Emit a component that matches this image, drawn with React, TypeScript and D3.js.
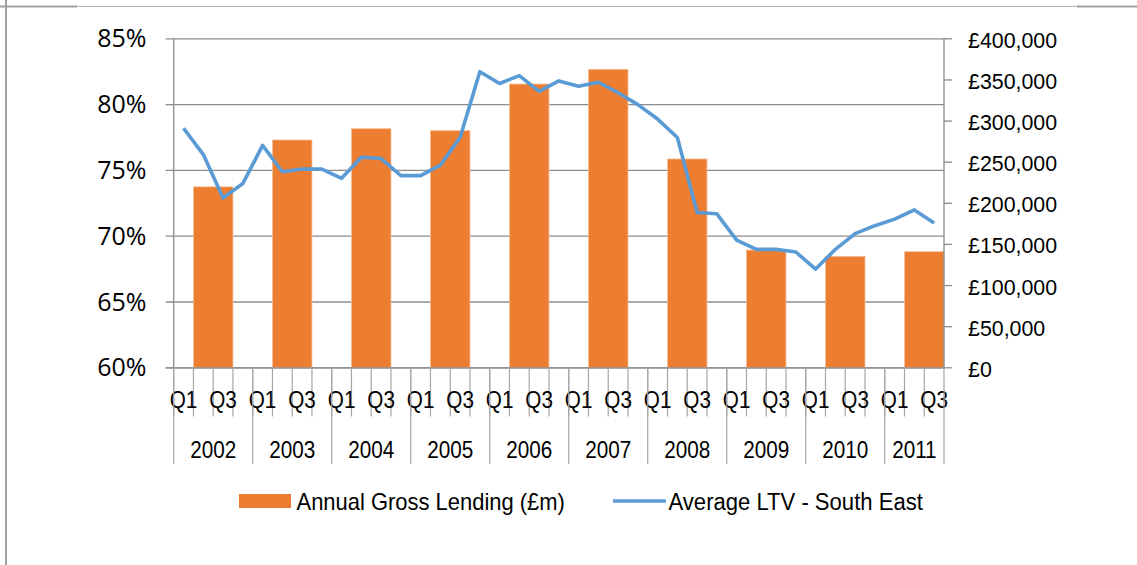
import * as d3 from 'd3';
import React from 'react';

// chart values
const years = ['2002', '2003', '2004', '2005', '2006', '2007', '2008', '2009', '2010', '2011'];
const quartersPerYear = [4, 4, 4, 4, 4, 4, 4, 4, 4, 3];
const shownQuarters = ['Q1', 'Q3'];

// Annual Gross Lending (£m), right axis
const lending = [220000, 277000, 290700, 288300, 345000, 362900, 253900, 143200, 135500, 141200];

// Average LTV - South East (%), left axis, one per quarter
const ltv = [
    78.2, 76.2, 72.9, 74.0,
    76.9, 74.9, 75.1, 75.1,
    74.4, 76.0, 75.9, 74.6,
    74.6, 75.4, 77.5, 82.5,
    81.6, 82.2, 81.0, 81.8,
    81.4, 81.7, 80.9, 80.0,
    78.9, 77.5, 71.8, 71.7,
    69.7, 69.0, 69.0, 68.8,
    67.5, 69.0, 70.2, 70.8,
    71.3, 72.0, 71.0
];

const leftTicks = [60, 65, 70, 75, 80, 85];
const rightTicks = [0, 50000, 100000, 150000, 200000, 250000, 300000, 350000, 400000];

const W = 1137;
const H = 565;
const dim = { left: 173.7, right: 944, top: 38.8, bottom: 367.8 };

const ORANGE = '#ED7D31';
const BLUE = '#5B9BD5';
const AXIS = '#8c8c8c';
const TICK = '#a6a6a6';
const SANS = '"Liberation Sans", Arial, sans-serif';

export default function App() {
    const quarters = years.flatMap((y, i) => d3.range(quartersPerYear[i]).map(q => `${y}-Q${q + 1}`));

    const x = d3.scaleBand<string>()
        .domain(quarters)
        .range([dim.left, dim.right])
        .paddingInner(0)
        .paddingOuter(0);
    const bw = x.bandwidth();

    const yL = d3.scaleLinear().domain([60, 85]).range([dim.bottom, dim.top]);
    const yR = d3.scaleLinear().domain([0, 400000]).range([dim.bottom, dim.top]);

    const line = d3.line<number>()
        .x((_, i) => (x(quarters[i]) as number) + bw / 2)
        .y(d => yL(d));

    const fmtMoney = (v: number) => `£${d3.format(',')(v)}`;

    // Excel text here is a little condensed, so squeeze it horizontally
    const squeezed = (key: string, tx: number, ty: number, txt: string, anchor: string, sx = 0.92, size = 23) => (
        <text
            key={key}
            transform={`translate(${tx},${ty}) scale(${sx},1)`}
            textAnchor={anchor}
            fontFamily={SANS}
            fontSize={size}
            fill='#000'>
            {txt}
        </text>
    );

    const yearStart = (i: number) => x(`${years[i]}-Q1`) as number;
    const yearEnd = (i: number) => (x(`${years[i]}-Q${quartersPerYear[i]}`) as number) + bw;

    return (
        <svg
            width={W}
            height={H}
            style={{ position: 'absolute', left: 0, top: 0, background: '#fff' }}>
            {/* outer frame */}
            <line x1={0} x2={W} y1={6.5} y2={6.5} stroke='#b4b4b4' strokeWidth={1} />
            <line x1={0} x2={77} y1={6.5} y2={6.5} stroke='#a0a0a0' strokeWidth={2} />
            <line x1={1077} x2={W} y1={6.5} y2={6.5} stroke='#a0a0a0' strokeWidth={2} />
            <line x1={6} x2={6} y1={0} y2={H} stroke='#a0a0a0' strokeWidth={2} />

            {/* gridlines + left ticks */}
            {leftTicks.map(t => (
                <g key={`gl${t}`}>
                    <line x1={dim.left - 8} x2={dim.right} y1={yL(t)} y2={yL(t)} stroke={AXIS} strokeWidth={1.3} />
                    <text
                        x={146.5}
                        y={yL(t) + 8.5}
                        textAnchor='end'
                        fontFamily='"Open Sans", sans-serif'
                        fontSize={25}
                        fill='#000'>
                        {`${t}%`}
                    </text>
                </g>
            ))}

            {/* bars */}
            {years.map((y, i) => (
                <rect
                    key={`b${y}`}
                    x={x(`${y}-Q2`) as number}
                    width={bw * 2}
                    y={yR(lending[i])}
                    height={dim.bottom - yR(lending[i])}
                    fill={ORANGE}
                    stroke='#f5bf98'
                    strokeWidth={0.8} />
            ))}

            {/* axes */}
            <line x1={dim.left} x2={dim.left} y1={dim.top} y2={dim.bottom} stroke={AXIS} strokeWidth={1.3} />
            <line x1={dim.right} x2={dim.right} y1={dim.top} y2={dim.bottom} stroke={AXIS} strokeWidth={1.3} />
            <line x1={dim.left - 8} x2={dim.right} y1={dim.bottom} y2={dim.bottom} stroke={AXIS} strokeWidth={1.3} />

            {rightTicks.map(t => (
                <g key={`r${t}`}>
                    <line x1={dim.right} x2={dim.right + 8} y1={yR(t)} y2={yR(t)} stroke={AXIS} strokeWidth={1.3} />
                    {squeezed(`rt${t}`, 968, yR(t) + 9, fmtMoney(t), 'start', 0.93)}
                </g>
            ))}

            {/* line */}
            <path
                d={line(ltv) ?? ''}
                fill='none'
                stroke={BLUE}
                strokeWidth={3.6}
                strokeLinejoin='round' />

            {/* category axis: quarter ticks */}
            {quarters.map(q => (
                <line
                    key={`qt${q}`}
                    x1={x(q) as number}
                    x2={x(q) as number}
                    y1={dim.bottom}
                    y2={416.5}
                    stroke={TICK}
                    strokeWidth={1.2} />
            ))}
            {quarters.filter(q => shownQuarters.includes(q.slice(5))).map(q =>
                squeezed(`ql${q}`, (x(q) as number) + bw / 2, 407.5, q.slice(5), 'middle', 0.9)
            )}

            {/* category axis: year group lines + labels */}
            {years.map((y, i) => (
                <line
                    key={`yl${y}`}
                    x1={yearStart(i)}
                    x2={yearStart(i)}
                    y1={dim.bottom}
                    y2={464}
                    stroke={TICK}
                    strokeWidth={1.2} />
            ))}
            <line x1={dim.right} x2={dim.right} y1={dim.bottom} y2={464} stroke={TICK} strokeWidth={1.2} />
            {years.map((y, i) =>
                squeezed(`yt${y}`, (yearStart(i) + yearEnd(i)) / 2, 457.5, y, 'middle', 0.9)
            )}

            {/* legend */}
            <rect x={239} y={494} width={52} height={14} fill={ORANGE} />
            {squeezed('lg1', 296.5, 509.5, 'Annual Gross Lending (£m)', 'start', 0.955)}
            <line x1={613} x2={666} y1={501} y2={501} stroke={BLUE} strokeWidth={3.6} />
            {squeezed('lg2', 668.5, 509.5, 'Average LTV - South East', 'start', 0.96)}
        </svg>
    );
}
